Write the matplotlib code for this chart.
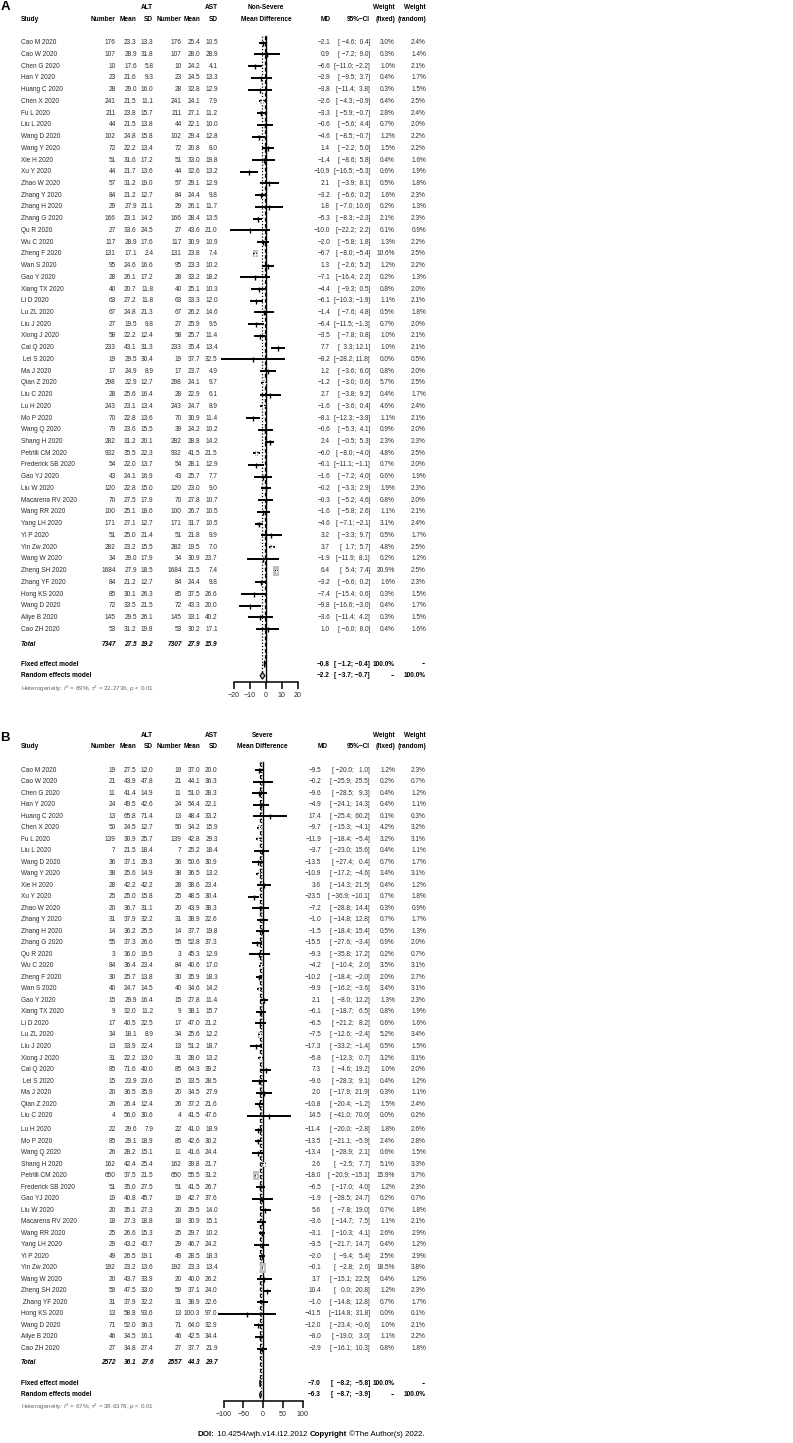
import numpy as np
import matplotlib
matplotlib.use("Agg")
import matplotlib.pyplot as plt
from matplotlib import font_manager
from matplotlib.patches import Rectangle, Polygon

# ---------------- data: panel A (non-severe) ----------------
studies_a = ["Cao M 2020", "Cao W 2020", "Chen G 2020", "Han Y 2020", "Huang C 2020", "Chen X 2020",
             "Fu L 2020", "Liu L 2020", "Wang D 2020", "Wang Y 2020", "Xie H 2020", "Xu Y 2020",
             "Zhao W 2020", "Zhang Y 2020", "Zhang H 2020", "Zhang G 2020", "Qu R 2020", "Wu C 2020",
             "Zheng F 2020", "Wan S 2020", "Gao Y 2020", "Xiang TX 2020", "Li D 2020", "Lu ZL 2020",
             "Liu J 2020", "Xiong J 2020", "Cai Q 2020", " Lei S 2020", "Ma J 2020", "Qian Z 2020",
             "Liu C 2020", "Lu H 2020", "Mo P 2020", "Wang Q 2020", "Shang H 2020", "Petrilli CM 2020",
             "Frederick SB 2020", "Gao YJ 2020", "Liu W 2020", "Macarena RV 2020", "Wang RR 2020",
             "Yang LH 2020", "Yi P 2020", "Yin Zw 2020", "Wang W 2020", "Zheng SH 2020", "Zhang YF 2020",
             "Hong KS 2020", "Wang D 2020", "Aliye B 2020", "Cao ZH 2020"]
a_n1 = [176, 107, 10, 23, 28, 241, 211, 44, 102, 72, 51, 44, 57, 84, 29, 166, 27, 117, 131, 95,
        28, 40, 63, 67, 27, 58, 233, 19, 17, 298, 28, 243, 70, 79, 282, 932, 54, 43, 120, 70,
        100, 171, 51, 282, 34, 1684, 84, 85, 72, 145, 53]
a_m1 = [23.3, 28.9, 17.6, 21.6, 29.0, 21.5, 23.8, 21.5, 24.8, 22.2, 31.6, 21.7, 31.2, 21.2, 27.9,
        23.1, 33.6, 28.9, 17.1, 24.6, 26.1, 20.7, 27.2, 24.8, 19.5, 22.2, 43.1, 29.5, 24.9, 22.9,
        25.6, 23.1, 22.8, 23.6, 31.2, 35.5, 22.0, 24.1, 22.8, 27.5, 25.1, 27.1, 25.0, 23.2, 29.0,
        27.9, 21.2, 30.1, 33.5, 29.5, 31.2]
a_sd1 = [13.3, 31.8, 5.8, 9.3, 16.0, 11.1, 15.7, 13.8, 15.8, 13.4, 17.2, 13.6, 19.0, 12.7, 21.1,
         14.2, 24.5, 17.6, 2.4, 16.6, 17.2, 11.8, 11.8, 21.3, 9.8, 12.4, 31.3, 30.4, 8.9, 12.7,
         16.4, 13.4, 13.6, 15.5, 20.1, 22.3, 13.7, 16.9, 15.0, 17.9, 18.6, 12.7, 21.4, 15.5, 17.9,
         18.5, 12.7, 26.3, 21.5, 26.1, 19.8]
a_n2 = [176, 107, 10, 23, 28, 241, 211, 44, 102, 72, 51, 44, 57, 84, 29, 166, 27, 117, 131, 95,
        28, 40, 63, 67, 27, 58, 233, 19, 17, 298, 28, 243, 70, 39, 282, 932, 54, 43, 120, 70,
        100, 171, 51, 282, 34, 1684, 84, 85, 72, 145, 53]
a_m2 = [25.4, 28.0, 24.2, 24.5, 32.8, 24.1, 27.1, 22.1, 29.4, 20.8, 33.0, 32.6, 29.1, 24.4, 26.1,
        28.4, 43.6, 30.9, 23.8, 23.3, 33.2, 25.1, 33.3, 26.2, 25.9, 25.7, 35.4, 37.7, 23.7, 24.1,
        22.9, 24.7, 30.9, 24.2, 28.8, 41.5, 28.1, 25.7, 23.0, 27.8, 26.7, 31.7, 21.8, 19.5, 30.9,
        21.5, 24.4, 37.5, 43.3, 33.1, 30.2]
a_sd2 = [10.5, 28.9, 4.1, 13.3, 12.9, 7.9, 11.2, 10.0, 12.8, 8.0, 19.8, 13.2, 12.9, 9.8, 11.7,
         13.5, 21.0, 10.9, 7.4, 10.2, 18.2, 10.3, 12.0, 14.6, 9.5, 11.4, 13.4, 32.5, 4.9, 9.7,
         6.1, 8.9, 11.4, 10.2, 14.2, 21.5, 12.9, 7.7, 9.0, 10.7, 10.5, 10.5, 9.9, 7.0, 23.7,
         7.4, 9.8, 26.6, 20.0, 40.2, 17.1]
a_md = [-2.1, 0.9, -6.6, -2.9, -3.8, -2.6, -3.3, -0.6, -4.6, 1.4, -1.4, -10.9, 2.1, -3.2, 1.8,
        -5.3, -10.0, -2.0, -6.7, 1.3, -7.1, -4.4, -6.1, -1.4, -6.4, -3.5, 7.7, -8.2, 1.2, -1.2,
        2.7, -1.6, -8.1, -0.6, 2.4, -6.0, -6.1, -1.6, -0.2, -0.3, -1.6, -4.6, 3.2, 3.7, -1.9,
        6.4, -3.2, -7.4, -9.8, -3.6, 1.0]
a_lo = [-4.6, -7.2, -11.0, -9.5, -11.4, -4.3, -5.9, -5.6, -8.5, -2.2, -8.6, -16.5, -3.9, -6.6, -7.0,
        -8.3, -22.2, -5.8, -8.0, -2.6, -16.4, -9.3, -10.3, -7.6, -11.5, -7.8, 3.3, -28.2, -3.6, -3.0,
        -3.8, -3.6, -12.3, -5.3, -0.5, -8.0, -11.1, -7.2, -3.3, -5.2, -5.8, -7.1, -3.3, 1.7, -11.9,
        5.4, -6.6, -15.4, -16.6, -11.4, -6.0]
a_hi = [0.4, 9.0, -2.2, 3.7, 3.8, -0.9, -0.7, 4.4, -0.7, 5.0, 5.8, -5.3, 8.1, 0.2, 10.6,
        -2.3, 2.2, 1.8, -5.4, 5.2, 2.2, 0.5, -1.9, 4.8, -1.3, 0.8, 12.1, 11.8, 6.0, 0.6,
        9.2, 0.4, -3.9, 4.1, 5.3, -4.0, -1.1, 4.0, 2.9, 4.6, 2.6, -2.1, 9.7, 5.7, 8.1,
        7.4, 0.2, 0.6, -3.0, 4.2, 8.0]
a_wf = [3.0, 0.3, 1.0, 0.4, 0.3, 6.4, 2.8, 0.7, 1.2, 1.5, 0.4, 0.6, 0.5, 1.6, 0.2, 2.1, 0.1, 1.3,
        10.6, 1.2, 0.2, 0.8, 1.1, 0.5, 0.7, 1.0, 1.0, 0.0, 0.8, 5.7, 0.4, 4.6, 1.1, 0.9, 2.3, 4.8,
        0.7, 0.6, 1.9, 0.8, 1.1, 3.1, 0.5, 4.8, 0.2, 20.9, 1.6, 0.3, 0.4, 0.3, 0.4]
a_wr = [2.4, 1.4, 2.1, 1.7, 1.5, 2.5, 2.4, 2.0, 2.2, 2.2, 1.6, 1.9, 1.8, 2.3, 1.3, 2.3, 0.9, 2.2,
        2.5, 2.2, 1.3, 2.0, 2.1, 1.8, 2.0, 2.1, 2.1, 0.5, 2.0, 2.5, 1.7, 2.4, 2.1, 2.0, 2.3, 2.5,
        2.0, 1.9, 2.3, 2.0, 2.1, 2.4, 1.7, 2.5, 1.2, 2.5, 2.3, 1.5, 1.7, 1.5, 1.6]
a_total = [7347, 27.5, 19.2, 7307, 27.9, 15.9]
a_fixed = [-0.8, -1.2, -0.4]
a_random = [-2.2, -3.7, -0.7]
a_het = r"Heterogeneity: $I^2$ = 89%, $\tau^2$ = 22.2736, $p$ < 0.01"

# ---------------- data: panel B (severe) ----------------
studies_b = list(studies_a)
studies_b[46] = " Zhang YF 2020"
b_n1 = [19, 21, 11, 24, 13, 50, 139, 7, 36, 38, 28, 25, 20, 31, 14, 55, 3, 84, 30, 40,
        15, 9, 17, 34, 13, 31, 85, 15, 20, 26, 4, 22, 85, 26, 162, 650, 51, 19, 20, 18,
        25, 29, 49, 192, 20, 59, 31, 13, 71, 46, 27]
b_m1 = [27.5, 43.9, 41.4, 49.5, 65.8, 24.5, 30.9, 21.5, 37.1, 25.6, 42.2, 25.0, 36.7, 37.9, 36.2,
        37.3, 36.0, 36.4, 25.7, 24.7, 29.9, 32.0, 40.5, 18.1, 33.9, 22.2, 71.6, 23.9, 36.5, 26.4,
        56.0, 29.6, 29.1, 28.2, 42.4, 37.5, 35.0, 40.8, 35.1, 27.3, 26.6, 43.2, 26.5, 23.2, 43.7,
        47.5, 37.9, 58.8, 52.0, 34.5, 34.8]
b_sd1 = [12.0, 47.8, 14.9, 42.6, 71.4, 12.7, 25.7, 18.4, 29.3, 14.9, 42.2, 15.8, 31.1, 32.2, 25.5,
         26.6, 19.5, 23.4, 13.8, 14.5, 16.4, 11.2, 22.5, 8.9, 22.4, 13.0, 40.0, 23.6, 35.9, 12.4,
         30.6, 7.9, 18.9, 15.1, 25.4, 21.5, 27.5, 45.7, 27.3, 18.8, 15.3, 43.7, 19.1, 13.6, 33.9,
         33.0, 32.2, 93.6, 36.3, 16.1, 27.4]
b_n2 = [19, 21, 11, 24, 13, 50, 139, 7, 36, 38, 28, 25, 20, 31, 14, 55, 3, 84, 30, 40,
        15, 9, 17, 34, 13, 31, 85, 15, 20, 26, 4, 22, 85, 11, 162, 650, 51, 19, 20, 18,
        25, 29, 49, 192, 20, 59, 31, 13, 71, 46, 27]
b_m2 = [37.0, 44.1, 51.0, 54.4, 48.4, 34.2, 42.8, 25.2, 50.6, 36.5, 38.6, 48.5, 43.9, 38.9, 37.7,
        52.8, 45.3, 40.6, 35.9, 34.6, 27.8, 38.1, 47.0, 25.6, 51.2, 28.0, 64.3, 33.5, 34.5, 37.2,
        41.5, 41.0, 42.6, 41.6, 39.8, 55.5, 41.5, 42.7, 29.5, 30.9, 29.7, 46.7, 28.5, 23.3, 40.0,
        37.1, 38.9, 100.3, 64.0, 42.5, 37.7]
b_sd2 = [20.0, 36.3, 28.3, 22.1, 33.2, 15.9, 29.3, 18.4, 30.9, 13.2, 23.4, 30.4, 38.3, 22.6, 19.8,
         37.3, 12.9, 17.0, 18.3, 14.2, 11.4, 15.7, 21.2, 12.2, 18.7, 13.2, 39.2, 28.5, 27.9, 21.6,
         47.6, 18.9, 30.2, 24.4, 21.7, 31.2, 26.7, 37.6, 14.0, 15.1, 10.2, 24.2, 18.3, 13.4, 26.2,
         24.0, 22.6, 97.0, 32.9, 34.4, 21.9]
b_md = [-9.5, -0.2, -9.6, -4.9, 17.4, -9.7, -11.9, -3.7, -13.5, -10.9, 3.6, -23.5, -7.2, -1.0, -1.5,
        -15.5, -9.3, -4.2, -10.2, -9.9, 2.1, -6.1, -6.5, -7.5, -17.3, -5.8, 7.3, -9.6, 2.0, -10.8,
        14.5, -11.4, -13.5, -13.4, 2.6, -18.0, -6.5, -1.9, 5.6, -3.6, -3.1, -3.5, -2.0, -0.1, 3.7,
        10.4, -1.0, -41.5, -12.0, -8.0, -2.9]
b_lo = [-20.0, -25.9, -28.5, -24.1, -25.4, -15.3, -18.4, -23.0, -27.4, -17.2, -14.3, -36.9, -28.8,
        -14.8, -18.4, -27.6, -35.8, -10.4, -18.4, -16.2, -8.0, -18.7, -21.2, -12.6, -33.2, -12.3,
        -4.6, -28.3, -17.9, -20.4, -41.0, -20.0, -21.1, -28.9, -2.5, -20.9, -17.0, -28.5, -7.8,
        -14.7, -10.3, -21.7, -9.4, -2.8, -15.1, 0.0, -14.8, -114.8, -23.4, -19.0, -16.1]
b_hi = [1.0, 25.5, 9.3, 14.3, 60.2, -4.1, -5.4, 15.6, 0.4, -4.6, 21.5, -10.1, 14.4, 12.8, 15.4,
        -3.4, 17.2, 2.0, -2.0, -3.6, 12.2, 6.5, 8.2, -2.4, -1.4, 0.7, 19.2, 9.1, 21.9, -1.2,
        70.0, -2.8, -5.9, 2.1, 7.7, -15.1, 4.0, 24.7, 19.0, 7.5, 4.1, 14.7, 5.4, 2.6, 22.5,
        20.8, 12.8, 31.8, -0.6, 3.0, 10.3]
b_wf = [1.2, 0.2, 0.4, 0.4, 0.1, 4.2, 3.2, 0.4, 0.7, 3.4, 0.4, 0.7, 0.3, 0.7, 0.5, 0.9, 0.2, 3.5,
        2.0, 3.4, 1.3, 0.8, 0.6, 5.2, 0.5, 3.2, 1.0, 0.4, 0.3, 1.5, 0.0, 1.8, 2.4, 0.6, 5.1, 15.9,
        1.2, 0.2, 0.7, 1.1, 2.6, 0.4, 2.5, 18.5, 0.4, 1.2, 0.7, 0.0, 1.0, 1.1, 0.8]
b_wr = [2.3, 0.7, 1.2, 1.1, 0.3, 3.2, 3.1, 1.1, 1.7, 3.1, 1.2, 1.8, 0.9, 1.7, 1.3, 2.0, 0.7, 3.1,
        2.7, 3.1, 2.3, 1.9, 1.6, 3.4, 1.5, 3.1, 2.0, 1.2, 1.1, 2.4, 0.2, 2.6, 2.8, 1.5, 3.3, 3.7,
        2.3, 0.7, 1.8, 2.1, 2.9, 1.2, 2.9, 3.8, 1.2, 2.3, 1.7, 0.1, 2.1, 2.2, 1.8]
b_total = [2572, 36.1, 27.6, 2557, 44.3, 29.7]
b_fixed = [-7.0, -8.2, -5.8]
b_random = [-6.3, -8.7, -3.9]
b_het = r"Heterogeneity: $I^2$ = 67%, $\tau^2$ = 38.6376, $p$ < 0.01"

# ---------------- style ----------------
W, H = 793, 1443
have = {f.name for f in font_manager.fontManager.ttflist}
FONT = next(f for f in ["Liberation Sans", "DejaVu Sans"] if f in have)
plt.rcParams["font.family"] = [FONT, "DejaVu Sans"]
plt.rcParams["mathtext.fontset"] = "custom"
plt.rcParams["mathtext.rm"] = FONT
plt.rcParams["mathtext.it"] = FONT + ":italic"
plt.rcParams["mathtext.bf"] = FONT + ":bold"

FS = 4.7
TXT = "#2b2b2b"
GREY = "#bebebe"
SQ_W, SQ_H = 6.3, 10.0   # px size of the biggest square

fig = plt.figure(figsize=(W / 100, H / 100), dpi=100)
ax = fig.add_axes([0, 0, 1, 1])
ax.set_xlim(0, W)
ax.set_ylim(H, 0)
ax.axis("off")


def minus(s):
    return s.replace("-", "\u2212")


def f1(v):
    return minus(f"{v:.1f}")


def put(x, y, s, ha="right", **kw):
    kw.setdefault("fontsize", FS)
    kw.setdefault("color", TXT)
    return ax.text(x, y, s, ha=ha, va="center", **kw)


def draw_panel(letter, title, studies, n1, m1, sd1, n2, m2, sd2, md, lo, hi, wf, wr,
               total, fixed, random, het, lay):
    cols = [115.7, 136.7, 153.3, 181.7, 200.0, 217.7]
    x_ci, x_wf, x_wr = 370, 395, 426
    # row positions
    rows = []
    for i in range(len(studies)):
        y = lay["row0"] + i * lay["dy"]
        if lay["gap"] and i >= lay["gap"][0]:
            y += lay["gap"][1]
        rows.append(y)

    # header
    ax.text(0.5, lay["letter_y"], letter, fontsize=9.5, fontweight="bold", ha="left", va="center")
    h1, h2 = lay["h1"], lay["h2"]
    b = dict(fontweight="bold", color="black")
    put(21, h2, "Study", ha="left", **b)
    for x, s in zip(cols, ["Number", "Mean", "SD", "Number", "Mean", "SD"]):
        put(x, h2, s, **b)
    put(cols[2], h1, "ALT", **b)
    put(cols[5], h1, "AST", **b)
    put(lay["head_x"], h1, title, ha="center", **b)
    put(lay["head_x"], h2, "Mean Difference", ha="center", **b)
    put(lay["md_head"], h2, "MD", **b)
    put(x_ci, h2, "95%\u2212CI", **b)
    put(x_wf, h1, "Weight", **b)
    put(x_wr, h1, "Weight", **b)
    put(x_wf, h2, "(fixed)", **b)
    put(x_wr, h2, "(random)", **b)

    # CI strings padded like R does
    los = [f1(v) for v in list(lo) + [fixed[1], random[1]]]
    his = [f1(v) for v in list(hi) + [fixed[2], random[2]]]
    wl = max(len(s) for s in los)
    wh = max(len(s) for s in his)

    def ci(a, c):
        return "[" + f1(a).rjust(wl) + "; " + f1(c).rjust(wh) + "]"

    for i, y in enumerate(rows):
        put(21, y, studies[i], ha="left")
        vals = [str(n1[i]), f1(m1[i]), f1(sd1[i]), str(n2[i]), f1(m2[i]), f1(sd2[i])]
        for x, s in zip(cols, vals):
            put(x, y, s)
        put(lay["md_x"], y, f1(md[i]))
        put(x_ci, y, ci(lo[i], hi[i]))
        put(x_wf, y, f"{wf[i]:.1f}%")
        put(x_wr, y, f"{wr[i]:.1f}%")

    # total row
    bi = dict(fontweight="bold", fontstyle="italic", color="black")
    put(21, lay["total"], "Total", ha="left", **bi)
    tv = [str(total[0]), f1(total[1]), f1(total[2]), str(total[3]), f1(total[4]), f1(total[5])]
    for x, s in zip(cols, tv):
        put(x, lay["total"], s, **bi)

    # summary rows
    for y, name, est, w1, w2 in [(lay["fixed"], "Fixed effect model", fixed, "100.0%", "--"),
                                 (lay["random"], "Random effects model", random, "--", "100.0%")]:
        put(21, y, name, ha="left", **b)
        put(lay["md_x"], y, f1(est[0]), **b)
        put(x_ci, y, ci(est[1], est[2]), **b)
        put(x_wf, y, w1, **b)
        put(x_wr, y, w2, **b)
    put(21, lay["het"], het, ha="left", fontsize=FS - 0.2, color="#666666")

    # forest part
    zero, ppu = lay["zero"], lay["ppu"]
    y0, y1 = lay["line_top"] - 10, lay["axis"] + 30
    fa = fig.add_axes([190 / W, 1 - y1 / H, 155 / W, (y1 - y0) / H])
    fa.set_xlim((190 - zero) / ppu, (345 - zero) / ppu)
    fa.set_ylim(y1, y0)
    fa.patch.set_visible(False)
    for s in ["top", "right", "left"]:
        fa.spines[s].set_visible(False)
    ticks = lay["ticks"]
    fa.spines["bottom"].set_position(("data", lay["axis"]))
    fa.spines["bottom"].set_bounds(ticks[0], ticks[-1])
    fa.spines["bottom"].set_linewidth(1.1)
    fa.set_xticks(ticks)
    fa.set_xticklabels([minus(str(t)) for t in ticks])
    fa.set_yticks([])
    fa.tick_params(axis="x", direction="out", length=5, width=1.1, labelsize=FS + 0.4,
                   labelcolor=TXT, pad=2.5)

    fa.plot([0, 0], [lay["line_top"], lay["axis"]], color="black", lw=1.0)
    fa.plot([fixed[0]] * 2, [lay["line_top"], lay["fixed"]], color="black", lw=0.9, ls=(0, (3, 2)))
    fa.plot([random[0]] * 2, [lay["line_top"], lay["random"] - 3.5], color="black", lw=0.9,
            ls=(0, (1, 1.5)))

    wmax = max(wf)
    for i, y in enumerate(rows):
        s = np.sqrt(wf[i] / wmax)
        wpx, hpx = SQ_W * s, SQ_H * s
        w = wpx / ppu
        fa.add_patch(Rectangle((md[i] - w / 2, y - hpx / 2), w, hpx, fc=GREY, ec="none", zorder=2))
        fa.plot([lo[i], hi[i]], [y, y], color="black", lw=1.4, solid_capstyle="butt", zorder=3)
        if wpx > 2.5:
            fa.plot([max(lo[i], md[i] - w / 2), min(hi[i], md[i] + w / 2)], [y, y], color="white",
                    lw=0.8, solid_capstyle="butt", zorder=4)
            fa.plot([md[i]], [y], marker="|", ms=3, mew=0.8, color="white", zorder=5)
        else:
            fa.plot([md[i]], [y], marker="|", ms=3.6, mew=1.0, color="black", zorder=5)

    for y, est in [(lay["fixed"], fixed), (lay["random"], random)]:
        d = 3.5
        fa.add_patch(Polygon([(est[1], y), (est[0], y - d), (est[2], y), (est[0], y + d)],
                             closed=True, fc=GREY, ec="black", lw=0.8, zorder=4))


lay_a = dict(letter_y=7, h1=7.3, h2=19.3, row0=42.7, dy=11.73, gap=None, total=644, fixed=664,
             random=675.7, het=688.7, axis=681.7, zero=266, ppu=1.6, ticks=[-20, -10, 0, 10, 20],
             md_x=330, md_head=331, head_x=266, line_top=36)
lay_b = dict(letter_y=738, h1=735.3, h2=746.7, row0=770, dy=11.52, gap=(31, 2.5), total=1362.3,
             fixed=1383.3, random=1395, het=1407.3, axis=1401, zero=263, ppu=0.395,
             ticks=[-100, -50, 0, 50, 100], md_x=321, md_head=328, head_x=262.7, line_top=762)

draw_panel("A", "Non-Severe", studies_a, a_n1, a_m1, a_sd1, a_n2, a_m2, a_sd2, a_md, a_lo, a_hi,
           a_wf, a_wr, a_total, a_fixed, a_random, a_het, lay_a)
draw_panel("B", "Severe", studies_b, b_n1, b_m1, b_sd1, b_n2, b_m2, b_sd2, b_md, b_lo, b_hi,
           b_wf, b_wr, b_total, b_fixed, b_random, b_het, lay_b)

# footer
FD = 5.7
t = ax.text(198, 1434, "DOI:", fontsize=FD, fontweight="bold", ha="left", va="center")
t = ax.annotate(" 10.4254/wjh.v14.i12.2012 ", xy=(1, 0), xycoords=t, va="bottom", fontsize=FD)
t = ax.annotate("Copyright", xy=(1, 0), xycoords=t, va="bottom", fontsize=FD, fontweight="bold")
ax.annotate(" \u00a9The Author(s) 2022.", xy=(1, 0), xycoords=t, va="bottom", fontsize=FD)

fig.savefig("out.png", dpi=100, facecolor="white")
